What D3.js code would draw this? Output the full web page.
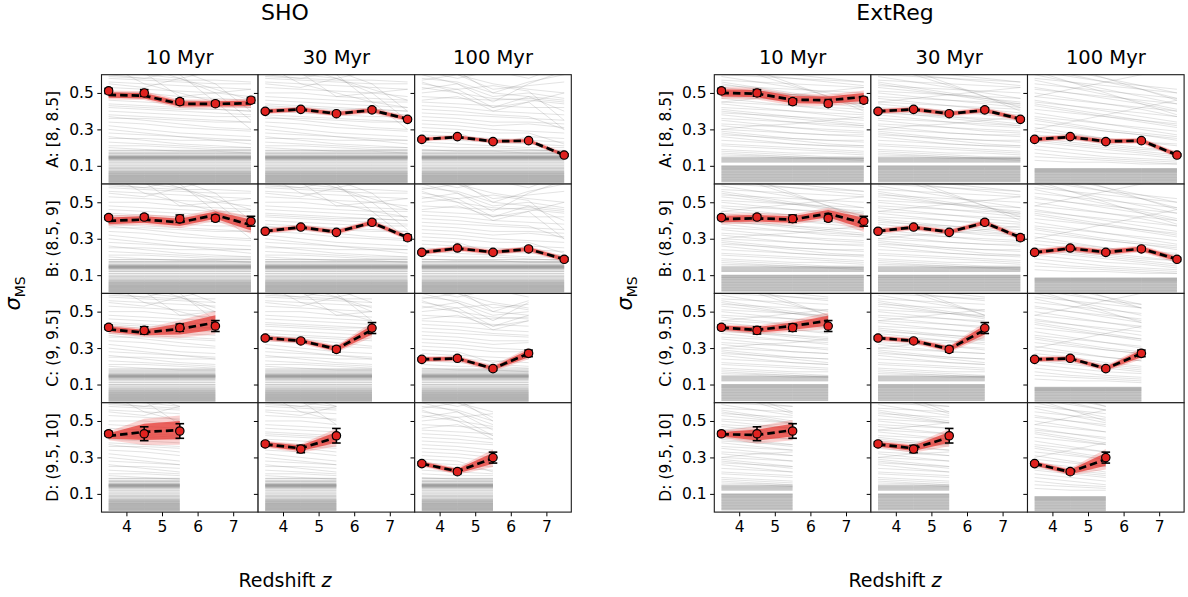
<!DOCTYPE html>
<html>
<head>
<meta charset="utf-8">
<script src="https://cdn.jsdelivr.net/npm/d3@7"></script>
<style>
  body { margin: 0; background: #fff; }
  svg { display: block; }
  text { font-family: "DejaVu Sans", sans-serif; fill: #000; }
</style>
</head>
<body>
<svg id="chart" width="1188" height="597"></svg>
<script>
// ---- data -----------------------------------------------------------------
const groups = ["SHO", "ExtReg"];
const ages = ["10 Myr", "30 Myr", "100 Myr"];
const massBins = ["A: [8, 8.5]", "B: (8.5, 9]", "C: (9, 9.5]", "D: (9.5, 10]"];
const redshifts = [3.5, 4.5, 5.5, 6.5, 7.5];
const xTicks = [4, 5, 6, 7];
const yTicks = [0.1, 0.3, 0.5];

// measured scatter of the main sequence, [mass bin][age][redshift]
const obsSigma = [
  [[0.511, 0.500, 0.452, 0.441, 0.460], [0.399, 0.410, 0.386, 0.407, 0.355], [0.245, 0.260, 0.233, 0.238, 0.159]],
  [[0.416, 0.419, 0.410, 0.412, 0.396], [0.341, 0.364, 0.335, 0.390, 0.306], [0.225, 0.249, 0.225, 0.244, 0.187]],
  [[0.414, 0.397, 0.412, 0.421], [0.355, 0.339, 0.293, 0.410], [0.238, 0.244, 0.187, 0.271]],
  [[0.430, 0.430, 0.445], [0.374, 0.346, 0.419], [0.266, 0.222, 0.299]]
];
const obsErr = [
  [[0.014, 0.018, 0.015, 0.012, 0.015], [0.009, 0.009, 0.009, 0.011, 0.009], [0.007, 0.007, 0.007, 0.007, 0.007]],
  [[0.011, 0.013, 0.020, 0.015, 0.027], [0.008, 0.008, 0.008, 0.012, 0.015], [0.007, 0.008, 0.008, 0.009, 0.010]],
  [[0.012, 0.020, 0.020, 0.030], [0.010, 0.010, 0.015, 0.030], [0.008, 0.010, 0.010, 0.018]],
  [[0.012, 0.038, 0.040], [0.012, 0.020, 0.040], [0.010, 0.012, 0.030]]
];

// model median and half-width of its credible band, per group
const modelSHO = [
  [[0.489, 0.485, 0.440, 0.440, 0.443], [0.399, 0.410, 0.386, 0.405, 0.357], [0.245, 0.258, 0.234, 0.238, 0.160]],
  [[0.398, 0.405, 0.390, 0.430, 0.375], [0.341, 0.363, 0.337, 0.388, 0.307], [0.225, 0.247, 0.226, 0.243, 0.188]],
  [[0.403, 0.385, 0.405, 0.440], [0.355, 0.340, 0.295, 0.400], [0.238, 0.243, 0.188, 0.270]],
  [[0.418, 0.440, 0.450], [0.372, 0.350, 0.410], [0.266, 0.224, 0.295]]
];
const spreadSHO = [
  [[0.015, 0.015, 0.015, 0.015, 0.015], [0.010, 0.010, 0.010, 0.010, 0.010], [0.008, 0.008, 0.008, 0.008, 0.008]],
  [[0.018, 0.018, 0.020, 0.020, 0.030], [0.010, 0.010, 0.010, 0.010, 0.010], [0.010, 0.010, 0.010, 0.010, 0.010]],
  [[0.015, 0.015, 0.030, 0.040], [0.010, 0.010, 0.012, 0.025], [0.010, 0.010, 0.010, 0.020]],
  [[0.015, 0.045, 0.050], [0.012, 0.015, 0.030], [0.010, 0.012, 0.030]]
];
const modelExt = [
  [[0.500, 0.496, 0.463, 0.460, 0.478], [0.399, 0.410, 0.386, 0.405, 0.357], [0.245, 0.258, 0.234, 0.238, 0.160]],
  [[0.408, 0.412, 0.405, 0.438, 0.385], [0.341, 0.363, 0.337, 0.388, 0.307], [0.225, 0.247, 0.226, 0.245, 0.188]],
  [[0.412, 0.400, 0.421, 0.450], [0.355, 0.340, 0.295, 0.400], [0.238, 0.243, 0.188, 0.270]],
  [[0.427, 0.423, 0.450], [0.372, 0.350, 0.410], [0.266, 0.220, 0.290]]
];
const spreadExt = [
  [[0.020, 0.020, 0.020, 0.020, 0.022], [0.010, 0.010, 0.010, 0.010, 0.010], [0.010, 0.010, 0.010, 0.010, 0.010]],
  [[0.018, 0.018, 0.018, 0.020, 0.030], [0.010, 0.010, 0.010, 0.010, 0.010], [0.012, 0.012, 0.012, 0.012, 0.012]],
  [[0.012, 0.015, 0.020, 0.028], [0.010, 0.010, 0.012, 0.025], [0.010, 0.010, 0.010, 0.020]],
  [[0.012, 0.030, 0.035], [0.012, 0.015, 0.030], [0.010, 0.012, 0.035]]
];

// individual simulated tracks (values at each redshift)
const tracksSHO = [
  [0.62, 0.60, 0.58, 0.62, 0.70], [0.60, 0.58, 0.62, 0.55, 0.40], [0.58, 0.57, 0.56, 0.55, 0.55],
  [0.56, 0.55, 0.54, 0.53, 0.52], [0.55, 0.53, 0.58, 0.50, 0.35], [0.53, 0.52, 0.51, 0.50, 0.48],
  [0.50, 0.50, 0.48, 0.47, 0.46], [0.48, 0.47, 0.46, 0.45, 0.45], [0.46, 0.45, 0.44, 0.43, 0.42],
  [0.44, 0.43, 0.42, 0.41, 0.40], [0.42, 0.41, 0.40, 0.39, 0.38], [0.40, 0.39, 0.38, 0.37, 0.37],
  [0.38, 0.37, 0.36, 0.35, 0.34], [0.36, 0.36, 0.35, 0.34, 0.34], [0.34, 0.33, 0.31, 0.30, 0.29],
  [0.32, 0.30, 0.28, 0.27, 0.26], [0.30, 0.28, 0.26, 0.24, 0.22], [0.28, 0.27, 0.26, 0.25, 0.24],
  [0.26, 0.24, 0.22, 0.21, 0.20], [0.25, 0.25, 0.24, 0.24, 0.24], [0.23, 0.22, 0.21, 0.20, 0.20],
  [0.21, 0.21, 0.20, 0.19, 0.19], [0.20, 0.19, 0.18, 0.18, 0.17], [0.64, 0.62, 0.60, 0.45, 0.30],
  [0.65, 0.55, 0.50, 0.45, 0.42], [0.61, 0.61, 0.48, 0.50, 0.52], [0.70, 0.64, 0.58, 0.52, 0.46],
  [0.59, 0.58, 0.57, 0.57, 0.56], [0.43, 0.42, 0.41, 0.41, 0.40], [0.37, 0.35, 0.33, 0.31, 0.30]
];
const tracksSHO100 = [
  [0.60, 0.55, 0.45, 0.55, 0.62], [0.58, 0.56, 0.50, 0.56, 0.60], [0.55, 0.52, 0.54, 0.51, 0.35],
  [0.52, 0.55, 0.48, 0.50, 0.47], [0.50, 0.52, 0.42, 0.48, 0.40], [0.48, 0.47, 0.46, 0.47, 0.45],
  [0.46, 0.48, 0.42, 0.45, 0.30], [0.45, 0.44, 0.43, 0.42, 0.42], [0.43, 0.42, 0.40, 0.39, 0.38],
  [0.41, 0.40, 0.38, 0.37, 0.30], [0.39, 0.38, 0.37, 0.36, 0.35], [0.37, 0.36, 0.34, 0.34, 0.33],
  [0.35, 0.34, 0.32, 0.33, 0.31], [0.33, 0.32, 0.30, 0.29, 0.28], [0.31, 0.30, 0.28, 0.28, 0.22],
  [0.29, 0.28, 0.22, 0.26, 0.25], [0.27, 0.26, 0.25, 0.24, 0.23], [0.25, 0.24, 0.23, 0.22, 0.21],
  [0.23, 0.22, 0.21, 0.20, 0.20], [0.21, 0.20, 0.20, 0.19, 0.18], [0.19, 0.18, 0.18, 0.17, 0.17],
  [0.62, 0.58, 0.62, 0.58, 0.65], [0.66, 0.62, 0.50, 0.48, 0.46], [0.56, 0.50, 0.40, 0.45, 0.50],
  [0.64, 0.60, 0.55, 0.52, 0.50], [0.57, 0.60, 0.52, 0.54, 0.56], [0.53, 0.50, 0.47, 0.46, 0.44]
];
const tracksExt = [
  [0.64, 0.62, 0.60, 0.58, 0.56], [0.62, 0.60, 0.58, 0.56, 0.54], [0.60, 0.59, 0.58, 0.57, 0.56],
  [0.59, 0.56, 0.53, 0.50, 0.47], [0.57, 0.56, 0.55, 0.54, 0.53], [0.56, 0.53, 0.50, 0.47, 0.44],
  [0.54, 0.53, 0.52, 0.51, 0.50], [0.53, 0.51, 0.49, 0.47, 0.45], [0.51, 0.50, 0.49, 0.48, 0.47],
  [0.50, 0.48, 0.46, 0.44, 0.42], [0.48, 0.47, 0.46, 0.45, 0.44], [0.47, 0.45, 0.43, 0.41, 0.39],
  [0.45, 0.44, 0.43, 0.42, 0.41], [0.44, 0.42, 0.40, 0.38, 0.36], [0.42, 0.41, 0.40, 0.39, 0.38],
  [0.41, 0.39, 0.37, 0.35, 0.33], [0.39, 0.38, 0.37, 0.36, 0.35], [0.38, 0.36, 0.34, 0.32, 0.31],
  [0.36, 0.35, 0.34, 0.33, 0.32], [0.35, 0.33, 0.31, 0.29, 0.28], [0.33, 0.32, 0.31, 0.30, 0.29],
  [0.32, 0.30, 0.28, 0.27, 0.26], [0.30, 0.29, 0.28, 0.27, 0.27], [0.29, 0.27, 0.25, 0.24, 0.23],
  [0.27, 0.26, 0.25, 0.24, 0.24], [0.26, 0.24, 0.22, 0.21, 0.20], [0.24, 0.23, 0.22, 0.21, 0.21],
  [0.22, 0.21, 0.20, 0.19, 0.18], [0.21, 0.20, 0.19, 0.18, 0.17], [0.19, 0.18, 0.17, 0.17, 0.16],
  [0.18, 0.17, 0.16, 0.15, 0.15], [0.17, 0.16, 0.15, 0.14, 0.14], [0.66, 0.60, 0.54, 0.48, 0.42],
  [0.70, 0.62, 0.55, 0.48, 0.40], [0.60, 0.62, 0.64, 0.66, 0.68], [0.45, 0.47, 0.49, 0.51, 0.53],
  [0.30, 0.32, 0.33, 0.35, 0.37], [0.15, 0.15, 0.14, 0.14, 0.13], [0.16, 0.155, 0.15, 0.145, 0.14],
  [0.55, 0.52, 0.49, 0.46, 0.43], [0.40, 0.38, 0.36, 0.34, 0.32], [0.28, 0.26, 0.24, 0.22, 0.21]
];
const tracksExt100 = [
  [0.66, 0.62, 0.58, 0.54, 0.50], [0.64, 0.60, 0.56, 0.52, 0.47], [0.62, 0.59, 0.56, 0.54, 0.52],
  [0.60, 0.56, 0.52, 0.48, 0.44], [0.58, 0.56, 0.54, 0.52, 0.50], [0.57, 0.53, 0.49, 0.45, 0.41],
  [0.55, 0.53, 0.51, 0.49, 0.47], [0.53, 0.50, 0.47, 0.44, 0.40], [0.52, 0.50, 0.48, 0.46, 0.44],
  [0.50, 0.47, 0.44, 0.41, 0.37], [0.48, 0.46, 0.44, 0.42, 0.40], [0.46, 0.43, 0.40, 0.37, 0.34],
  [0.45, 0.43, 0.41, 0.39, 0.37], [0.43, 0.40, 0.37, 0.34, 0.31], [0.41, 0.39, 0.37, 0.35, 0.33],
  [0.39, 0.36, 0.33, 0.30, 0.27], [0.37, 0.35, 0.33, 0.31, 0.29], [0.35, 0.32, 0.29, 0.27, 0.24],
  [0.33, 0.31, 0.29, 0.27, 0.25], [0.31, 0.28, 0.25, 0.23, 0.21], [0.29, 0.27, 0.25, 0.23, 0.22],
  [0.27, 0.25, 0.22, 0.20, 0.18], [0.25, 0.23, 0.21, 0.19, 0.18], [0.23, 0.21, 0.19, 0.17, 0.15],
  [0.21, 0.19, 0.17, 0.16, 0.14], [0.19, 0.17, 0.15, 0.14, 0.13], [0.17, 0.15, 0.14, 0.13, 0.12],
  [0.15, 0.14, 0.13, 0.12, 0.11], [0.13, 0.12, 0.12, 0.11, 0.11], [0.70, 0.64, 0.58, 0.52, 0.46],
  [0.48, 0.52, 0.56, 0.60, 0.64], [0.30, 0.34, 0.38, 0.42, 0.46], [0.62, 0.56, 0.50, 0.44, 0.38],
  [0.44, 0.41, 0.38, 0.35, 0.32], [0.36, 0.33, 0.30, 0.28, 0.26], [0.24, 0.22, 0.20, 0.18, 0.16]
];
// nearly flat low-scatter tracks forming the dense floor
const floorSHO = [0.185, 0.175, 0.168, 0.16, 0.155, 0.152, 0.15, 0.148, 0.146, 0.144, 0.142, 0.14, 0.137,
  0.134, 0.128, 0.12, 0.11, 0.10, 0.092, 0.085, 0.078, 0.072, 0.068, 0.064, 0.06, 0.057, 0.054, 0.05, 0.047,
  0.044, 0.041, 0.038, 0.035, 0.032, 0.029, 0.026, 0.023, 0.02, 0.017, 0.014, 0.011, 0.008];
const floorExt = [0.145, 0.14, 0.135, 0.13, 0.125, 0.12, 0.10, 0.097, 0.094, 0.09, 0.087, 0.084, 0.08, 0.076,
  0.072, 0.068, 0.064, 0.06, 0.056, 0.052, 0.048, 0.044, 0.04, 0.036, 0.032, 0.028, 0.024, 0.02, 0.016, 0.012];
const floorExt100 = [0.085, 0.082, 0.079, 0.076, 0.073, 0.07, 0.067, 0.064, 0.06, 0.056, 0.052, 0.048, 0.044,
  0.04, 0.036, 0.032, 0.028, 0.024, 0.02, 0.016, 0.012, 0.008];

// ---- layout ---------------------------------------------------------------
const svg = d3.select("#chart");
const groupLeft = [101.5, 714.3];
const groupCenter = [285, 895];
const panelW = 156.6, panelH = 109.35, panelTop = 74.7;
const tickLen = 4.2;

const x = d3.scaleLinear().domain([3.3, 7.7]).range([0, panelW]);
const y = d3.scaleLinear().domain([0, 0.6]).range([panelH, 0]);

svg.append("defs").append("clipPath").attr("id", "panel-clip")
  .append("rect").attr("width", panelW).attr("height", panelH);

const trackLine = d3.line().x((d, i) => x(redshifts[i])).y(d => y(d));
const band = d3.area().x(d => x(d.z)).y0(d => y(d.lo)).y1(d => y(d.hi));

groups.forEach((gname, gi) => {
  const model = gi === 0 ? modelSHO : modelExt;
  const spread = gi === 0 ? spreadSHO : spreadExt;

  // group title
  svg.append("text").attr("x", groupCenter[gi]).attr("y", 20)
    .attr("text-anchor", "middle").style("font-size", "22px").text(gname);

  // shared axis labels
  const xl = svg.append("text").attr("x", groupCenter[gi]).attr("y", 587)
    .attr("text-anchor", "middle").style("font-size", "19px");
  xl.append("tspan").text("Redshift ");
  xl.append("tspan").style("font-style", "italic").text("z");

  const yl = svg.append("text")
    .attr("transform", `translate(${groupLeft[gi] - 82},${panelTop + 2 * panelH}) rotate(-90)`)
    .attr("text-anchor", "middle").style("font-size", "21px");
  yl.append("tspan").style("font-style", "italic").text("σ");
  yl.append("tspan").attr("dy", 5).style("font-size", "14px").text("MS");

  massBins.forEach((bin, r) => {
    const n = obsSigma[r][0].length;
    const zs = redshifts.slice(0, n);

    // row label
    svg.append("text")
      .attr("transform", `translate(${groupLeft[gi] - 49},${panelTop + r * panelH + panelH / 2}) rotate(-90)`)
      .attr("text-anchor", "middle").attr("dy", "0.35em").style("font-size", "15.5px").text(bin);

    ages.forEach((age, c) => {
      const g = svg.append("g")
        .attr("transform", `translate(${groupLeft[gi] + c * panelW},${panelTop + r * panelH})`);

      g.append("rect").attr("width", panelW).attr("height", panelH).attr("fill", "#fff");

      const inner = g.append("g").attr("clip-path", "url(#panel-clip)");

      // simulated tracks
      let tracks, floor;
      if (gi === 0) { tracks = c === 2 ? tracksSHO100 : tracksSHO; floor = floorSHO; }
      else { tracks = c === 2 ? tracksExt100 : tracksExt; floor = c === 2 ? floorExt100 : floorExt; }

      inner.selectAll("path.track").data(tracks).join("path")
        .attr("class", "track")
        .attr("d", d => trackLine(d.slice(0, n)))
        .attr("fill", "none").attr("stroke", "#808080")
        .attr("stroke-opacity", 0.25).attr("stroke-width", 0.9);

      inner.selectAll("path.floor").data(floor).join("path")
        .attr("class", "floor")
        .attr("d", v => trackLine(zs.map(() => v)))
        .attr("fill", "none").attr("stroke", "#808080")
        .attr("stroke-opacity", 0.42).attr("stroke-width", 1.0);

      // model credible band (soft outer halo, then core)
      const m = model[r][c], s = spread[r][c];
      const outer = zs.map((z, i) => ({ z, lo: m[i] - s[i] * 1.6, hi: m[i] + s[i] * 1.6 }));
      const core = zs.map((z, i) => ({ z, lo: m[i] - s[i], hi: m[i] + s[i] }));
      inner.append("path").attr("d", band(outer)).attr("fill", "#e8322e").attr("fill-opacity", 0.22);
      inner.append("path").attr("d", band(core)).attr("fill", "#e3302b").attr("fill-opacity", 0.7);

      // model median
      inner.append("path").attr("d", trackLine(m))
        .attr("fill", "none").attr("stroke", "#000").attr("stroke-width", 2.7)
        .attr("stroke-dasharray", "7.5,4");

      // measurements with error bars
      const pts = obsSigma[r][c].map((v, i) => ({ z: redshifts[i], v, e: obsErr[r][c][i] }));
      const eb = g.append("g");
      pts.forEach(p => {
        const px = x(p.z);
        eb.append("line").attr("x1", px).attr("x2", px).attr("y1", y(p.v - p.e)).attr("y2", y(p.v + p.e))
          .attr("stroke", "#000").attr("stroke-width", 1.6);
        [p.v - p.e, p.v + p.e].forEach(v => {
          eb.append("line").attr("x1", px - 4.3).attr("x2", px + 4.3).attr("y1", y(v)).attr("y2", y(v))
            .attr("stroke", "#000").attr("stroke-width", 1.6);
        });
      });
      g.selectAll("circle").data(pts).join("circle")
        .attr("cx", p => x(p.z)).attr("cy", p => y(p.v)).attr("r", 4.2)
        .attr("fill", "#e0221f").attr("stroke", "#000").attr("stroke-width", 1.2);

      // y ticks on every panel, labels only on the first column
      const yAxis = d3.axisLeft(y).tickValues(yTicks).tickSize(tickLen).tickPadding(3.5)
        .tickFormat(c === 0 ? d3.format(".1f") : () => "");
      const ya = g.append("g").call(yAxis);
      ya.select(".domain").remove();
      ya.selectAll("line").attr("stroke", "#000").attr("stroke-width", 1);
      ya.selectAll("text").style("font-size", "15.5px").attr("fill", "#000")
        .attr("font-family", "DejaVu Sans");

      if (r === massBins.length - 1) {
        const xAxis = d3.axisBottom(x).tickValues(xTicks).tickSize(tickLen).tickPadding(5).tickFormat(d3.format("d"));
        const xa = g.append("g").attr("transform", `translate(0,${panelH})`).call(xAxis);
        xa.select(".domain").remove();
        xa.selectAll("line").attr("stroke", "#000").attr("stroke-width", 1);
        xa.selectAll("text").style("font-size", "15.5px").attr("fill", "#000")
          .attr("font-family", "DejaVu Sans");
      }

      if (r === 0) {
        svg.append("text").attr("x", groupLeft[gi] + c * panelW + panelW / 2).attr("y", 64)
          .attr("text-anchor", "middle").style("font-size", "19.5px").text(age);
      }

      // frame
      g.append("rect").attr("width", panelW).attr("height", panelH)
        .attr("fill", "none").attr("stroke", "#1a1a1a").attr("stroke-width", 1.1);
    });
  });
});
</script>
</body>
</html>
